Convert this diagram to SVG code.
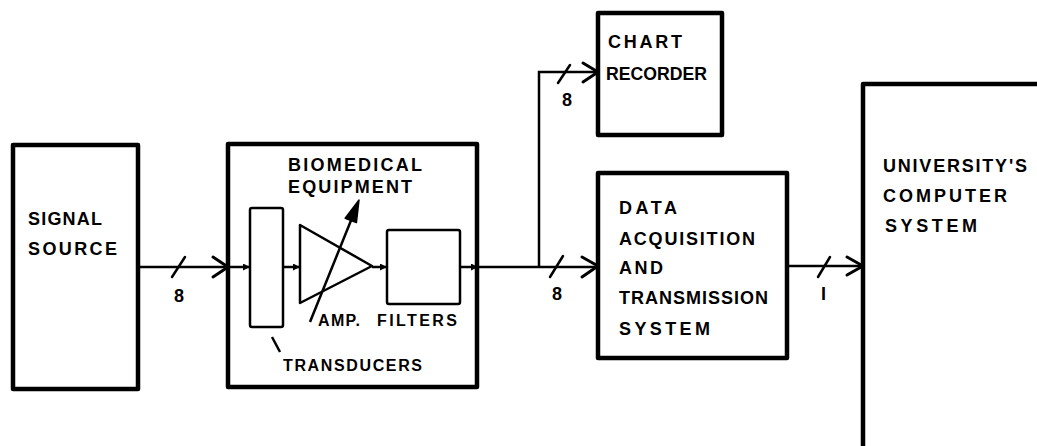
<svg xmlns="http://www.w3.org/2000/svg" width="1037" height="446" viewBox="0 0 1037 446">
<style>
.box{fill:none;stroke:#000;stroke-width:4.5;stroke-linejoin:round}
.in{fill:none;stroke:#000;stroke-width:2.5;stroke-linejoin:round}
.ln{fill:none;stroke:#000;stroke-width:2.5}
.chev{fill:none;stroke:#000;stroke-width:3;stroke-linecap:round;stroke-linejoin:round}
.tk{fill:none;stroke:#000;stroke-width:2.5;stroke-linecap:round}
text{font-family:"Liberation Sans",Arial,sans-serif;font-weight:bold;font-size:18px;fill:#000}
.sm{font-size:16px}
</style>
<defs>
<marker id="sa" viewBox="0 0 10 10" refX="10" refY="5" markerWidth="7" markerHeight="7" markerUnits="userSpaceOnUse" orient="auto">
<path d="M0,0 L10,5 L0,10 z" fill="#000"/>
</marker>
</defs>
<rect width="1037" height="446" fill="#fff"/>

<g id="signal-source">
<rect class="box" x="13" y="145" width="125" height="244"/>
<text x="28" y="225" textLength="74" lengthAdjust="spacing">SIGNAL</text>
<text x="28" y="255" textLength="89" lengthAdjust="spacing">SOURCE</text>
</g>

<g id="biomedical-equipment">
<rect class="box" x="228" y="144" width="249" height="243"/>
<text x="288" y="171" textLength="134" lengthAdjust="spacing">BIOMEDICAL</text>
<text x="288" y="193" textLength="124" lengthAdjust="spacing">EQUIPMENT</text>
</g>

<g id="transducers">
<rect class="in" x="250" y="208" width="33" height="119" rx="2"/>
<line class="ln" x1="272" y1="337" x2="280" y2="352"/>
<text class="sm" x="283" y="371" textLength="139" lengthAdjust="spacing">TRANSDUCERS</text>
</g>

<g id="amp">
<path class="in" d="M300,225 L372,266 L300,303 Z"/>
<line class="ln" x1="310" y1="322" x2="352" y2="218"/>
<polygon points="359,200 356.4,222.6 345.2,218.2" fill="#000" stroke="#000" stroke-width="1.5" stroke-linejoin="round"/>
<text class="sm" x="318" y="326" textLength="42" lengthAdjust="spacing">AMP.</text>
</g>

<g id="filters">
<rect class="in" x="387" y="230" width="73" height="74" rx="2"/>
<text class="sm" x="377" y="326" textLength="80" lengthAdjust="spacing">FILTERS</text>
</g>

<g id="chart-recorder">
<rect class="box" x="598" y="13" width="124" height="122"/>
<text x="608" y="48" textLength="74" lengthAdjust="spacing">CHART</text>
<text x="606" y="80" textLength="101" lengthAdjust="spacingAndGlyphs">RECORDER</text>
</g>

<g id="data-acquisition">
<rect class="box" x="598" y="173" width="189" height="185"/>
<text x="619" y="214" textLength="58" lengthAdjust="spacing">DATA</text>
<text x="619" y="245" textLength="136" lengthAdjust="spacing">ACQUISITION</text>
<text x="619" y="274" textLength="44" lengthAdjust="spacing">AND</text>
<text x="619" y="304" textLength="149" lengthAdjust="spacing">TRANSMISSION</text>
<text x="619" y="335" textLength="91" lengthAdjust="spacing">SYSTEM</text>
</g>

<g id="university-computer">
<path class="box" d="M863,450 V84 H1045"/>
<text x="883" y="172" textLength="144" lengthAdjust="spacing">UNIVERSITY'S</text>
<text x="883" y="202" textLength="124" lengthAdjust="spacing">COMPUTER</text>
<text x="885" y="232" textLength="92" lengthAdjust="spacing">SYSTEM</text>
</g>

<g id="connectors">
<line class="ln" x1="138" y1="267" x2="228" y2="267"/>
<polyline class="chev" points="213,257 228,267 213,277"/>
<line class="tk" x1="172" y1="277" x2="185" y2="257"/>
<text x="174" y="302">8</text>

<line class="ln" x1="228" y1="267" x2="250" y2="267" marker-end="url(#sa)"/>
<line class="ln" x1="283" y1="267" x2="300" y2="267" marker-end="url(#sa)"/>
<line class="ln" x1="372" y1="267" x2="387" y2="267" marker-end="url(#sa)"/>
<line class="ln" x1="460" y1="267" x2="478" y2="267" marker-end="url(#sa)"/>

<line class="ln" x1="477" y1="267" x2="598" y2="267"/>
<polyline class="chev" points="582,257 598,266 582,277"/>
<line class="tk" x1="550" y1="277" x2="563" y2="256"/>
<text x="552" y="300">8</text>

<polyline class="ln" points="539,267 539,72 598,72"/>
<polyline class="chev" points="583,63 598,72 583,82"/>
<line class="tk" x1="558" y1="83" x2="570" y2="65"/>
<text x="562" y="106">8</text>

<line class="ln" x1="787" y1="266" x2="863" y2="266"/>
<polyline class="chev" points="847,257 863,266 847,275"/>
<line class="tk" x1="818" y1="277" x2="830" y2="257"/>
<text x="821" y="300">I</text>
</g>
</svg>
